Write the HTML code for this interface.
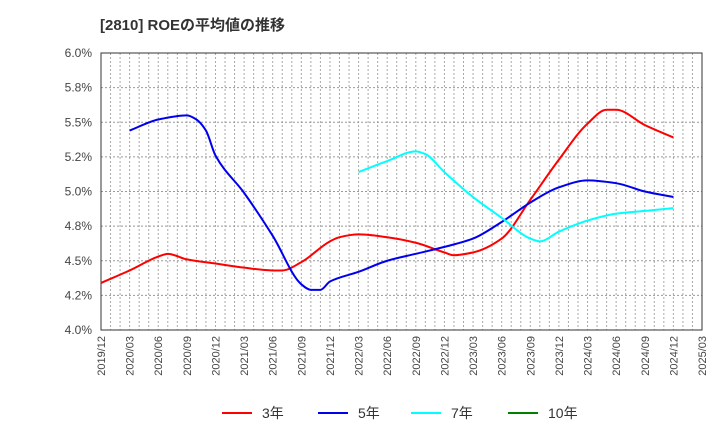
<!DOCTYPE html>
<html><head><meta charset="utf-8"><style>
body{margin:0;background:#fff;font-family:"Liberation Sans","Noto Sans CJK JP",sans-serif;}
svg text{font-family:"Liberation Sans","Noto Sans CJK JP",sans-serif;}
</style></head><body>
<svg id="c" width="720" height="440" viewBox="0 0 720 440">
<text x="100" y="30" font-size="15" font-weight="bold" fill="#333">[2810]  ROEの平均値の推移</text>
<g id="grid"></g><g id="axes"></g><g id="series"></g><g id="legend"></g>
</svg>
<script>
const xLabels=["2019/12","2020/03","2020/06","2020/09","2020/12","2021/03","2021/06","2021/09","2021/12","2022/03","2022/06","2022/09","2022/12","2023/03","2023/06","2023/09","2023/12","2024/03","2024/06","2024/09","2024/12","2025/03"];
const yTicks=[4.0,4.25,4.5,4.75,5.0,5.25,5.5,5.75,6.0];
const yLabels=["4.0%","4.2%","4.5%","4.8%","5.0%","5.2%","5.5%","5.8%","6.0%"];
// month index from 2019/12
const m3=[0,3,6,7,9,12,15,18,19,21,24,25,27,30,33,36,37,39,42,45,48,51,53,54,57,60];
const v3=[4.34,4.43,4.53,4.55,4.51,4.48,4.45,4.43,4.43,4.49,4.64,4.67,4.69,4.67,4.63,4.56,4.54,4.56,4.66,4.94,5.23,5.49,5.59,5.59,5.48,5.39];
const m5=[3,6,9,10,11,12,15,18,21,22,23,24,27,30,33,36,39,42,45,48,51,54,57,60];
const v5=[5.44,5.52,5.55,5.52,5.44,5.26,4.99,4.68,4.33,4.29,4.29,4.35,4.42,4.50,4.55,4.60,4.66,4.78,4.92,5.03,5.08,5.06,5.00,4.96];
const m7=[27,30,33,34,36,39,42,45,46,48,51,54,57,60];
const v7=[5.14,5.22,5.29,5.27,5.14,4.96,4.81,4.66,4.64,4.71,4.79,4.84,4.86,4.88];
const L=101,R=702,T=53,B=330,NM=63;
const X=m=>L+(R-L)*m/NM, Y=v=>B-(B-T)*(v-4)/2;
const NS="http://www.w3.org/2000/svg";
function mk(t,a,p){const e=document.createElementNS(NS,t);for(const k in a)e.setAttribute(k,a[k]);p.appendChild(e);return e;}
const grid=document.getElementById('grid'),axes=document.getElementById('axes'),ser=document.getElementById('series'),leg=document.getElementById('legend');
for(let m=1;m<NM;m++){const l=mk('line',{x1:X(m),x2:X(m),y1:T,y2:B,stroke:'#aaa','stroke-dasharray':'2,2','stroke-width':1},grid);

}
yTicks.forEach((v,i)=>{const l=mk('line',{x1:L,x2:R,y1:Y(v),y2:Y(v),stroke:'#999','stroke-dasharray':'2,2'},grid);


const t=mk('text',{x:92,y:Y(v)+4,'text-anchor':'end','font-size':12,fill:'#444'},axes);t.textContent=yLabels[i];

});
const fr=mk('rect',{x:L,y:T,width:R-L,height:B-T,fill:'none',stroke:'#333','stroke-width':1},axes);


xLabels.forEach((s,i)=>{const x=X(i*3)+4,y=B+6;const t=mk('text',{x:x,y:y,transform:`rotate(-90 ${x} ${y})`,'text-anchor':'end','font-size':11,fill:'#444'},axes);t.textContent=s;

});
function path(ms,vs){const p=ms.map((m,i)=>[X(m),Y(vs[i])]);const n=p.length;
const d=[],s=[];for(let i=0;i<n-1;i++){d.push(p[i+1][0]-p[i][0]);s.push((p[i+1][1]-p[i][1])/d[i]);}
const t=[];t[0]=s[0];t[n-1]=s[n-2];
for(let i=1;i<n-1;i++){if(s[i-1]*s[i]<=0)t[i]=0;else{const w1=2*d[i]+d[i-1],w2=d[i]+2*d[i-1];t[i]=(w1+w2)/(w1/s[i-1]+w2/s[i]);}}
let str=`M${p[0][0]},${p[0][1]}`;
for(let i=0;i<n-1;i++){const h=d[i]/3;str+=` C${p[i][0]+h},${p[i][1]+t[i]*h} ${p[i+1][0]-h},${p[i+1][1]-t[i+1]*h} ${p[i+1][0]},${p[i+1][1]}`;}
return str;}
[[m3,v3,'#ff0000','line-3yr'],[m5,v5,'#0000ee','line-5yr'],[m7,v7,'#00ffff','line-7yr']].forEach(s=>{
const e=mk('path',{d:path(s[0],s[1]),fill:'none',stroke:s[2],'stroke-width':2},ser);

});
[['3年','#ff0000',222],['5年','#0000ee',318],['7年','#00ffff',411],['10年','#008000',508]].forEach(s=>{
const g=mk('g',{},leg);


mk('line',{x1:s[2],x2:s[2]+30,y1:413,y2:413,stroke:s[1],'stroke-width':2},g);
const t=mk('text',{x:s[2]+40,y:418,'font-size':14,fill:'#333'},g);t.textContent=s[0];});
</script>
</body></html>
